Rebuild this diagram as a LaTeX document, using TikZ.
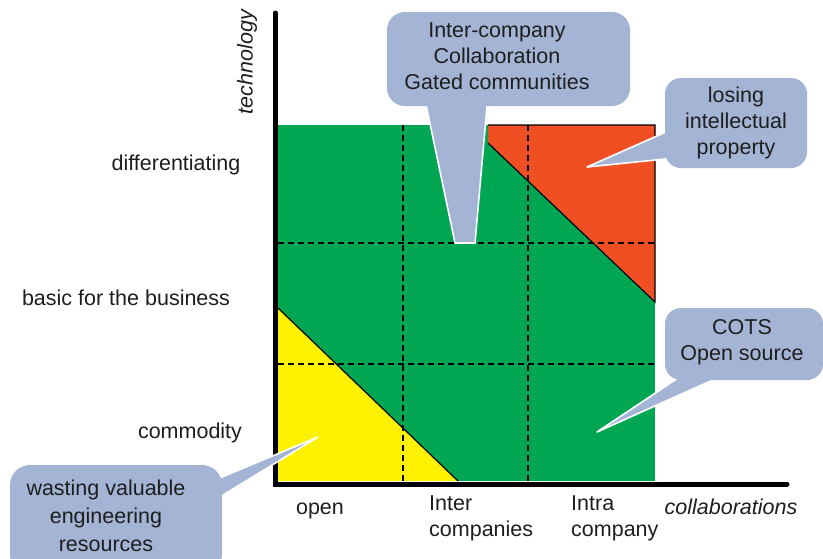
\documentclass[tikz,border=0pt]{standalone}
\usepackage{fontspec}
\setmainfont{Liberation Sans}
\definecolor{zgreen}{RGB}{0,166,81}
\definecolor{zred}{RGB}{240,78,35}
\definecolor{zyellow}{RGB}{255,242,0}
\definecolor{zcall}{RGB}{164,180,213}
\definecolor{ztext}{RGB}{30,30,30}
\tikzset{
  lbl/.style={font=\fontsize{21.5}{26}\selectfont, text=ztext, inner sep=0pt, align=center},
  ilbl/.style={lbl, font=\fontsize{21.5}{26}\selectfont\itshape},
  callbox/.style={fill=zcall, rounded corners=18pt, inner sep=0pt},
  ptr/.style={fill=zcall, draw=white, line width=1.6pt, line join=round},
  grid/.style={dashed, dash pattern=on 6pt off 4pt, line width=1.4pt, black},
  axis/.style={line width=5pt, black, line cap=round},
  edge/.style={line width=1.2pt, black}
}
\begin{document}
\begin{tikzpicture}[x=1pt,y=-1pt]
\clip (0,0) rectangle (823,558);
\fill[white] (0,0) rectangle (823,558);
% regions
\fill[zgreen] (278,125) rectangle (655,481);
\fill[zred] (488,125) -- (655,125) -- (655,302) -- (488,143) -- cycle;
\draw[edge] (488,125) -- (655,125) -- (655,302) -- (488,143);
\fill[zyellow] (278,308) -- (458,481) -- (278,481) -- cycle;
\draw[edge] (278,308) -- (458,481);
% grid
\draw[grid] (403,125) -- (403,481);
\draw[grid] (528,125) -- (528,481);
\draw[grid] (278,243) -- (655,243);
\draw[grid] (278,364) -- (655,364);
% axes
\coordinate (ytop) at (275.5,13);
\coordinate (origin) at (275.5,484);
\coordinate (xend) at (787,484);
\draw[axis] (ytop) -- (origin) -- (xend);
% callout pointers
\coordinate (p1) at (465,243);
\coordinate (p2) at (587,167);
\coordinate (p3) at (597,432);
\coordinate (p4) at (318,437);
\draw[ptr] (424,95) -- (455,243) -- (475,243) -- (488,95);
\draw[ptr] (675,128) -- (p2) -- (675,158);
\draw[ptr] (690,370) -- (p3) -- (735,370);
\draw[ptr] (210,482) -- (p4) -- (210,503);
% callout boxes
\node[callbox, minimum width=243pt, minimum height=94pt] (c1) at (508.5,59) {};
\node[callbox, minimum width=142pt, minimum height=90pt, rounded corners=16pt] (c2) at (736,123) {};
\node[callbox, minimum width=158pt, minimum height=72pt, rounded corners=16pt] (c3) at (744,344) {};
\node[callbox, minimum width=212pt, minimum height=110pt, rounded corners=20pt] (c4) at (116,520) {};
% callout texts
\node[lbl] (t1) at (497,56) {Inter-company\\Collaboration\\Gated communities};
\node[lbl] (t2) at (736,123) {losing\\intellectual\\property};
\node[lbl] (t3) at (742,342) {COTS\\Open source};
\node[lbl, font=\fontsize{21.5}{28}\selectfont] (t4) at (106,516) {wasting valuable\\engineering\\resources};
% axis labels
\node[ilbl, rotate=90] (tech) at (247,62) {technology};
\node[lbl] (diff) at (176,165) {differentiating};
\node[lbl] (basic) at (126,298) {basic for the business};
\node[lbl] (comm) at (190,433) {commodity};
\node[lbl] (open) at (320,511) {open};
\node[lbl, anchor=west, align=left] (inter) at (429,518) {Inter\\companies};
\node[lbl, anchor=west, align=left] (intra) at (571,518) {Intra\\company};
\node[ilbl] (collab) at (731,507) {collaborations};
\end{tikzpicture}
\end{document}
